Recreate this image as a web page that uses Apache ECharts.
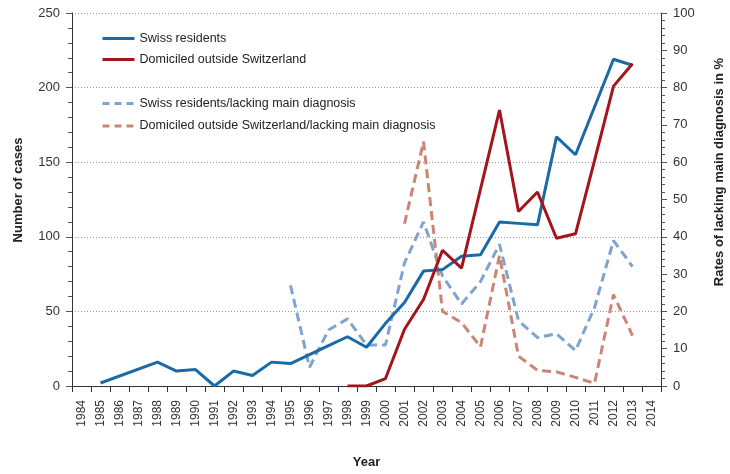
<!DOCTYPE html>
<html>
<head>
<meta charset="utf-8">
<script src="https://cdn.jsdelivr.net/npm/echarts@6/dist/echarts.min.js"></script>
<style>
html,body{margin:0;padding:0;background:#fff;}
#c{width:730px;height:474px;}
</style>
</head>
<body>
<div id="c"></div>
<script>
var years = ['1984','1985','1986','1987','1988','1989','1990','1991','1992','1993','1994','1995','1996','1997','1998','1999','2000','2001','2002','2003','2004','2005','2006','2007','2008','2009','2010','2011','2012','2013','2014'];
var swissResidents = [null,2,null,null,16,10,11,0,10,7,16,15,21,27,33,26,42,56,77,78,87,88,110,109,108,167,155,187,219,215,null];
var domiciledOutside = [null,null,null,null,null,null,null,null,null,null,null,null,null,null,0,0,5,38,58,91,79,132,185,117,130,99,102,151,201,216,null];
var swissLacking = [null,null,null,null,null,null,null,null,null,null,null,27,5,15,18,11,11,33,44,29.5,22,28,38,17.5,13,14,9.5,21,39,32,null];
var domiciledLacking = [null,null,null,null,null,null,null,null,null,null,null,null,null,null,null,null,null,43.5,65.5,20,17,10.5,35,8,4.2,3.8,2.3,0.7,24.5,13.5,null];
var leftTicks = [0,50,100,150,200,250];
var rightTicks = [0,10,20,30,40,50,60,70,80,90,100];

var FONT = 'Liberation Sans, Arial, sans-serif';
var chart = echarts.init(document.getElementById('c'), null, {renderer:'canvas'});
var hiddenSymbol = {color:'transparent', borderColor:'transparent', borderWidth:0};
chart.setOption({
  animation:false,
  backgroundColor:'#fff',
  textStyle:{fontFamily:FONT},
  grid:{left:72, right:69, top:13, bottom:83, containLabel:false},
  legend:[
    {orient:'vertical', left:96, top:27, itemWidth:32, itemHeight:14, itemGap:8,
     itemStyle:hiddenSymbol, lineStyle:{width:3},
     textStyle:{fontSize:12.5, color:'#222', fontFamily:FONT},
     data:['Swiss residents','Domiciled outside Switzerland']},
    {orient:'vertical', left:96, top:92, itemWidth:32, itemHeight:14, itemGap:9.5,
     itemStyle:hiddenSymbol, lineStyle:{width:3, type:[7,5]},
     textStyle:{fontSize:12.5, color:'#222', fontFamily:FONT},
     data:['Swiss residents/lacking main diagnosis','Domiciled outside Switzerland/lacking main diagnosis']}
  ],
  xAxis:{
    type:'category', data:years, boundaryGap:true,
    name:'Year', nameLocation:'middle', nameGap:70,
    nameTextStyle:{fontWeight:'bold', fontSize:13, color:'#222'},
    axisLine:{lineStyle:{color:'#333', width:1}},
    axisTick:{show:true, interval:0, length:6, lineStyle:{color:'#333'}},
    axisLabel:{interval:0, rotate:90, fontSize:12, color:'#333', margin:14},
    splitLine:{show:false}
  },
  yAxis:[
    {type:'value', min:0, max:250, interval:50,
     axisLine:{show:true, lineStyle:{color:'#333'}},
     axisTick:{show:true, length:6, lineStyle:{color:'#555'}},
     minorTick:{show:true, splitNumber:5, length:4, lineStyle:{color:'#555'}},
     axisLabel:{fontSize:13, color:'#333', margin:12,
       formatter:function(v){return leftTicks.indexOf(v)>=0?String(v):'';}},
     splitLine:{show:true, lineStyle:{color:'#999', type:[1,2], width:1}}
    },
    {type:'value', min:0, max:100, interval:10, position:'right',
     axisLine:{show:true, lineStyle:{color:'#333'}},
     axisTick:{show:true, length:6, lineStyle:{color:'#555'}},
     minorTick:{show:true, splitNumber:5, length:4, lineStyle:{color:'#555'}},
     axisLabel:{fontSize:13, color:'#333', margin:12,
       formatter:function(v){return rightTicks.indexOf(v)>=0?String(v):'';}},
     splitLine:{show:false}
    }
  ],
  graphic:[
    {type:'text', x:18, y:190, rotation:Math.PI/2,
     style:{text:'Number of cases', font:'bold 13px '+FONT, fill:'#222', textAlign:'center', textVerticalAlign:'middle'}},
    {type:'text', x:719, y:172, rotation:Math.PI/2,
     style:{text:'Rates of lacking main diagnosis in %', font:'bold 13px '+FONT, fill:'#222', textAlign:'center', textVerticalAlign:'middle'}}
  ],
  series:[
    {name:'Swiss residents', type:'line', yAxisIndex:0, data:swissResidents, connectNulls:true,
     symbol:'none', color:'#1a6aa6', lineStyle:{width:3, color:'#1a6aa6'}, z:4},
    {name:'Domiciled outside Switzerland', type:'line', yAxisIndex:0, data:domiciledOutside, connectNulls:true,
     symbol:'none', color:'#a3141c', lineStyle:{width:3, color:'#a3141c'}, z:4},
    {name:'Swiss residents/lacking main diagnosis', type:'line', yAxisIndex:1, data:swissLacking, connectNulls:true,
     symbol:'none', color:'#7ea3cf', lineStyle:{width:3, color:'#7ea3cf', type:[9,5]}, z:3},
    {name:'Domiciled outside Switzerland/lacking main diagnosis', type:'line', yAxisIndex:1, data:domiciledLacking, connectNulls:true,
     symbol:'none', color:'#cc8573', lineStyle:{width:3, color:'#cc8573', type:[9,5]}, z:3}
  ]
});
</script>
</body>
</html>
